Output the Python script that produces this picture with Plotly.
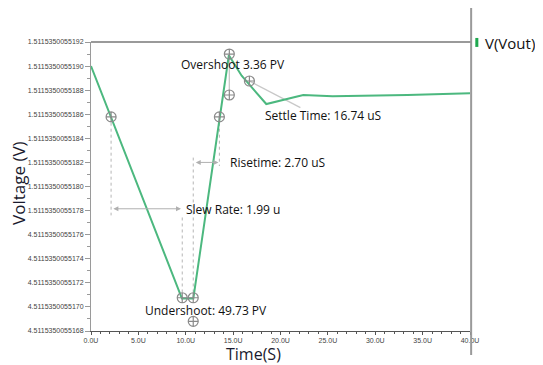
import plotly.graph_objects as go

# ---------------- data ----------------
# time in microseconds, voltage as the last digits of 4.51153500551xx (units of 1e-13 V)
time_us = [0.0, 9.6, 10.8, 14.55, 15.9, 18.5, 22.4, 25.5, 33.4, 37.7, 40.0]
vout = [190.0, 170.7, 170.7, 190.9, 189.2, 186.85, 187.6, 187.5, 187.6, 187.7, 187.75]

# measurement cursor markers
cursor_t = [2.12, 9.63, 10.79, 10.79, 13.55, 14.6, 14.6, 16.72]
cursor_v = [185.78, 170.76, 170.76, 168.8, 185.78, 187.6, 191.0, 188.76]

y_tick_vals = [168, 170, 172, 174, 176, 178, 180, 182, 184, 186, 188, 190, 192]
y_tick_text = ["4.5115350055168", "4.5115350055170", "4.5115350055172", "4.5115350055174",
               "4.5115350055176", "1.5115350055178", "1.5115350055180", "1.5115350055182",
               "1.5115350055184", "1.5115350055186", "1.5115350055188", "1.5115350055190",
               "1.5115350055192"]
x_tick_vals = [0, 5, 10, 15, 20, 25, 30, 35, 40]
x_tick_text = ["0.0U", "5.0U", "10.0U", "15.0U", "20.0U", "25.0U", "30.0U", "35.0U", "40.0U"]

# dotted guide segments (t0, v0, t1, v1)
dotted_guides = [
    (2.12, 185.3, 2.12, 177.6),
    (9.63, 171.2, 9.63, 177.6),
    (10.79, 171.2, 10.79, 182.4),
    (13.55, 185.3, 13.55, 181.7),
]
solid_guides = [
    (14.6, 190.6, 14.6, 188.0),
    (16.72, 188.76, 22.1, 186.55),
]
# double-headed arrows (t0, t1, v)
arrows = [(2.2, 9.5, 178.15), (10.9, 13.45, 182.0)]

labels = [
    ("Overshoot 3.36 PV", 9.3, 190.1),
    ("Settle Time: 16.74 uS", 18.2, 185.9),
    ("Risetime: 2.70 uS", 14.5, 182.0),
    ("Slew Rate: 1.99 u", 9.85, 178.1),
    ("Undershoot: 49.73 PV", 5.5, 169.7),
]

GREEN = "#4cb87f"
GRAY = "#9a9a9a"
FONT = "Open Sans"

fig = go.Figure()

for t0, v0, t1, v1 in dotted_guides:
    fig.add_trace(go.Scatter(x=[t0, t1], y=[v0, v1], mode="lines",
                             line=dict(color="#b5b5b5", width=1, dash="dot"),
                             showlegend=False, hoverinfo="skip"))
for t0, v0, t1, v1 in solid_guides:
    fig.add_trace(go.Scatter(x=[t0, t1], y=[v0, v1], mode="lines",
                             line=dict(color="#c8c8c8", width=1.3),
                             showlegend=False, hoverinfo="skip"))

fig.add_trace(go.Scatter(x=time_us, y=vout, mode="lines", name="V(Vout)",
                         line=dict(color=GREEN, width=2), showlegend=False))

fig.add_trace(go.Scatter(x=cursor_t, y=cursor_v, mode="markers",
                         marker=dict(symbol="circle-cross-open", size=10,
                                     color="#8a8a8a", line=dict(width=1.2, color="#8a8a8a")),
                         showlegend=False, hoverinfo="skip"))

annotations = []
for t0, t1, v in arrows:
    annotations.append(dict(x=t1, y=v, ax=t0, ay=v, xref="x", yref="y", axref="x", ayref="y",
                            text="", showarrow=True, arrowhead=2, arrowside="end+start",
                            arrowsize=1, arrowwidth=1, arrowcolor="#b0b0b0"))
for txt, t, v in labels:
    annotations.append(dict(x=t, y=v, xref="x", yref="y", text=txt, showarrow=False,
                            xanchor="left", yanchor="middle",
                            font=dict(family=FONT, size=12, color="#111")))

# axis titles
annotations.append(dict(x=-0.193, y=0.512, xref="paper", yref="paper", text="Voltage (V)",
                        textangle=-90, showarrow=False, xanchor="center", yanchor="middle",
                        font=dict(family=FONT, size=17, color="#1a1a2e")))
annotations.append(dict(x=0.43, y=-0.079, xref="paper", yref="paper", text="Time(S)",
                        showarrow=False, xanchor="center", yanchor="middle",
                        font=dict(family=FONT, size=16, color="#1a1a2e")))
# legend entry
annotations.append(dict(x=1.033, y=0.997, xref="paper", yref="paper", text="V(Vout)",
                        showarrow=False, xanchor="left", yanchor="middle",
                        font=dict(family=FONT, size=15, color="#111")))

shapes = [
    dict(type="line", xref="paper", yref="paper", x0=0, x1=1.003, y0=1, y1=1,
         line=dict(color=GRAY, width=2)),
    dict(type="line", xref="paper", yref="paper", x0=1.003, x1=1.003, y0=-0.083, y1=1.12,
         line=dict(color=GRAY, width=2)),
    dict(type="rect", xref="paper", yref="paper", x0=1.014, x1=1.022, y0=0.983, y1=1.014,
         fillcolor="#1fa84f", line=dict(width=0)),
]

# the page body adds an 8px offset, so the figure is sized to the remaining window
fig.update_layout(
    width=535, height=357,
    margin=dict(l=83, r=73, t=34, b=34),
    paper_bgcolor="white", plot_bgcolor="white",
    annotations=annotations, shapes=shapes,
    showlegend=False,
    xaxis=dict(range=[0, 40], tickvals=x_tick_vals, ticktext=x_tick_text,
               showgrid=False, zeroline=False, showline=True, linecolor="#555", linewidth=1,
               ticks="outside", ticklen=3, tickcolor="#555",
               minor=dict(dtick=1, ticks="outside", ticklen=2, tickcolor="#555"),
               tickfont=dict(family="Liberation Sans", size=7, color="#444")),
    yaxis=dict(range=[168, 192], tickvals=y_tick_vals, ticktext=y_tick_text,
               showgrid=False, zeroline=False, showline=True, linecolor=GRAY, linewidth=1,
               ticks="outside", ticklen=5, tickcolor=GRAY,
               minor=dict(dtick=1, ticks="outside", ticklen=3, tickcolor=GRAY),
               tickfont=dict(family="Liberation Sans", size=7, color="#444")),
)

fig.write_html("out.html")
